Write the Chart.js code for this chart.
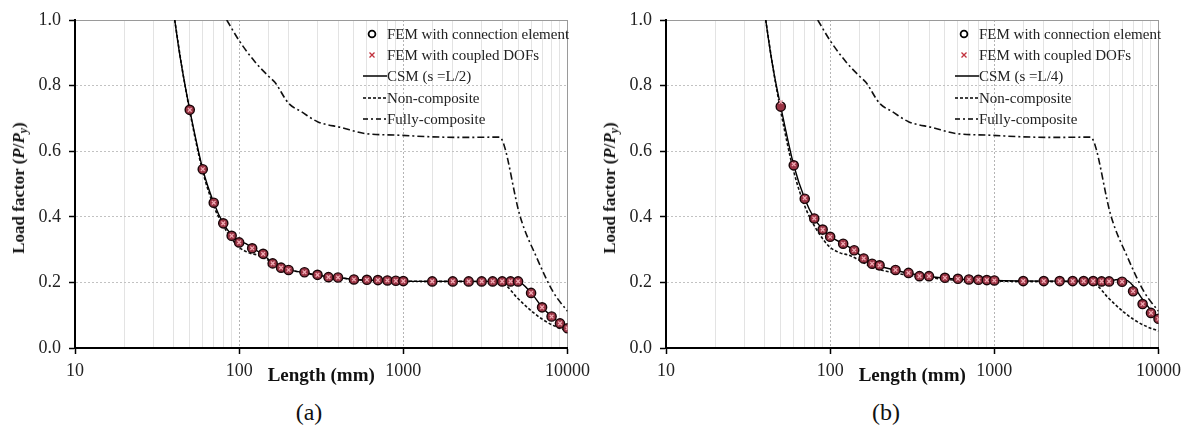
<!DOCTYPE html>
<html><head><meta charset="utf-8">
<script src="https://cdn.jsdelivr.net/npm/chart.js@4.4.1/dist/chart.umd.min.js"></script>
<style>
html,body{margin:0;padding:0;background:#fff;}
body{width:1192px;height:430px;position:relative;overflow:hidden;font-family:"Liberation Serif","Times New Roman",serif;color:#222;}
.panel{position:absolute;top:0;width:596px;height:395px;}
.ytitle{position:absolute;font-weight:bold;font-size:17px;white-space:nowrap;color:#111;transform:translate(-50%,-50%) rotate(-90deg);}
.ytitle sub{font-size:70%;vertical-align:-0.25em;line-height:0;}
.legend{position:absolute;width:230px;height:120px;font-size:15px;color:#222;}
.row{position:absolute;left:0;height:20px;white-space:nowrap;line-height:20px;}
.row svg{position:absolute;left:0;top:3px;}
.row span{position:absolute;left:24px;top:0;}
.cap{position:absolute;font-size:24px;transform:translate(-50%,-50%);color:#111;}
</style></head>
<body>
<div class="panel" style="left:0"><canvas id="chartA" width="596" height="395"></canvas></div>
<div class="panel" style="left:591px"><canvas id="chartB" width="596" height="395"></canvas></div>
<div class="ytitle" style="left:19px;top:188px">Load factor (<i>P</i>/<i>P</i><sub><i>y</i></sub>)</div>
<div class="ytitle" style="left:610px;top:188px">Load factor (<i>P</i>/<i>P</i><sub><i>y</i></sub>)</div>
<div class="legend" id="legA" style="left:363px;top:24px"></div>
<div class="legend" id="legB" style="left:955px;top:24px"></div>
<div class="cap" style="left:309px;top:412px">(a)</div>
<div class="cap" style="left:886px;top:412px">(b)</div>
<script>
// ---- data ----
const lengthFEM = [50,60,70,80,90,100,120,140,160,180,200,250,300,350,400,500,600,700,800,900,1000,1500,2000,2500,3000,3500,4000,4500,5000,6000,7000,8000,9000,10000];

const femConnA = [0.726,0.545,0.443,0.380,0.342,0.322,0.304,0.287,0.258,0.245,0.238,0.231,0.223,0.216,0.215,0.209,0.208,0.207,0.206,0.205,0.204,0.203,0.203,0.203,0.203,0.203,0.203,0.203,0.203,0.168,0.124,0.096,0.075,0.060];
const femDofA  = [0.726,0.545,0.443,0.380,0.342,0.322,0.304,0.287,0.258,0.245,0.238,0.231,0.223,0.216,0.215,0.209,0.208,0.207,0.206,0.205,0.204,0.203,0.203,0.203,0.203,0.203,0.203,0.203,0.203,0.168,0.124,0.096,0.075,0.060];

const femConnB = [0.736,0.557,0.455,0.395,0.361,0.339,0.318,0.298,0.273,0.257,0.252,0.238,0.229,0.219,0.219,0.214,0.211,0.209,0.208,0.207,0.206,0.204,0.204,0.204,0.204,0.204,0.204,0.203,0.203,0.202,0.173,0.134,0.107,0.089];
const femDofB  = [0.750,0.560,0.457,0.395,0.361,0.339,0.318,0.298,0.273,0.257,0.252,0.238,0.229,0.219,0.219,0.214,0.211,0.209,0.208,0.207,0.206,0.204,0.204,0.204,0.204,0.204,0.204,0.203,0.203,0.202,0.173,0.134,0.107,0.089];

const csmLenA = [40.5,43,45.8,50,60,70,80,90,100,110,120,140,160,180,200,250,300,400,500,700,1000,2000,4000,5000,6000,7000,8000,9000,10000];
const csmValA = [1.0,0.909,0.827,0.726,0.545,0.443,0.380,0.345,0.326,0.318,0.305,0.285,0.259,0.245,0.238,0.230,0.222,0.215,0.209,0.206,0.204,0.203,0.203,0.202,0.168,0.125,0.096,0.076,0.060];

const csmLenB = [40.5,43,45.8,50,60,70,80,90,100,120,140,160,180,200,250,300,400,500,700,1000,2000,4000,5000,5500,6000,6500,7000,8000,9000,10000];
const csmValB = [1.0,0.91,0.83,0.736,0.557,0.455,0.395,0.362,0.340,0.318,0.298,0.273,0.258,0.250,0.237,0.228,0.218,0.213,0.208,0.206,0.204,0.204,0.205,0.208,0.210,0.205,0.190,0.148,0.115,0.092];

const nonCompLen = [40.5,45,50,60,70,80,90,100,115,130,150,180,230,300,400,500,1000,2000,3800,4200,4900,5900,7100,8500,10000];
const nonCompVal = [1.0,0.85,0.722,0.538,0.433,0.373,0.333,0.307,0.290,0.283,0.268,0.246,0.232,0.222,0.215,0.209,0.204,0.203,0.202,0.192,0.155,0.117,0.086,0.065,0.052];

const fullCompLen = [84,100,125,150,165,200,240,300,420,580,920,1460,2330,3850,4100,5100,6500,8200,10000];
const fullCompVal = [1.0,0.937,0.872,0.830,0.810,0.746,0.720,0.690,0.672,0.654,0.649,0.644,0.642,0.643,0.620,0.408,0.275,0.170,0.112];

const xTicks = [10,100,1000,10000];
const yTicks = [0,0.2,0.4,0.6,0.8,1.0];
const labelsA = ['FEM with connection element','FEM with coupled DOFs','CSM (s =L/2)','Non-composite','Fully-composite'];
const labelsB = ['FEM with connection element','FEM with coupled DOFs','CSM (s =L/4)','Non-composite','Fully-composite'];
const xTitle = 'Length (mm)';

// ---- helpers ----
const FONT = 'Liberation Serif';
const pts = (xs, ys) => xs.map((x, i) => ({x: x, y: ys[i]}));
const isDecade = v => xTicks.indexOf(Math.round(v)) >= 0 && Math.abs(v - Math.round(v)) < 1e-6;

function buildChart(id, padRight, femConn, femDof, csmLen, csmVal, labels) {
  return new Chart(document.getElementById(id), {
    type: 'scatter',
    data: { datasets: [
      { label: labels[1], data: pts(lengthFEM, femDof), showLine: false,
        pointStyle: 'crossRot', pointRadius: 2.6, pointBorderColor: '#f2aab4', pointBorderWidth: 1.3, pointBackgroundColor: 'rgba(0,0,0,0)' },
      { label: labels[0], data: pts(lengthFEM, femConn), showLine: false,
        pointStyle: 'circle', pointRadius: 4.6, pointBackgroundColor: '#9a3444', pointBorderColor: '#1a0508', pointBorderWidth: 1.4 },
      { label: labels[2], data: pts(csmLen, csmVal), showLine: true, borderColor: '#000', borderWidth: 1.4,
        pointRadius: 0, cubicInterpolationMode: 'monotone' },
      { label: labels[3], data: pts(nonCompLen, nonCompVal), showLine: true, borderColor: '#111', borderWidth: 1.6,
        borderDash: [3, 2], pointRadius: 0, cubicInterpolationMode: 'monotone' },
      { label: labels[4], data: pts(fullCompLen, fullCompVal), showLine: true, borderColor: '#111', borderWidth: 1.6,
        borderDash: [7, 3, 2, 3], pointRadius: 0, cubicInterpolationMode: 'monotone' }
    ]},
    options: {
      responsive: false, animation: false, devicePixelRatio: 1,
      layout: { padding: { left: 0, right: padRight, top: 20, bottom: 0 } },
      plugins: { legend: { display: false }, tooltip: { enabled: false } },
      scales: {
        x: {
          type: 'logarithmic', min: 10, max: 10000,
          afterFit: s => { s.height = 47; },
          ticks: { autoSkip: false, maxRotation: 0, minRotation: 0, padding: 6, color: '#222',
                   font: { family: FONT, size: 18 },
                   callback: v => isDecade(v) ? String(Math.round(v)) : '' },
          grid: { lineWidth: 1, tickLength: 6, tickWidth: 1.5, tickBorderDash: [],
                  color: c => (c.tick && isDecade(c.tick.value)) ? (c.tick.value === 10000 ? '#9a9a9a' : '#b4b4b4') : '#e3e3e3',
                  tickColor: c => (c.tick && isDecade(c.tick.value)) ? '#000' : 'rgba(0,0,0,0)' },
          border: { display: true, color: '#000', width: 2,
                    dash: c => (c.tick && isDecade(c.tick.value) && c.tick.value !== 10000 && c.tick.value !== 10) ? [2, 2] : [] },
          title: { display: true, text: xTitle, color: '#111',
                   font: { family: FONT, size: 19, weight: 'bold' }, padding: { top: 0, bottom: 8 } }
        },
        y: {
          min: 0, max: 1,
          afterFit: s => { s.width = 75; },
          afterBuildTicks: s => { s.ticks = yTicks.map(v => ({ value: v })); },
          ticks: { padding: 8, color: '#222', font: { family: FONT, size: 18 },
                   callback: v => Number(v).toFixed(1) },
          grid: { lineWidth: 1, tickLength: 6, tickWidth: 1.5, tickColor: '#000', tickBorderDash: [],
                  color: c => (c.tick && c.tick.value >= 0.999) ? '#9a9a9a' : '#c2c2c2' },
          border: { display: true, color: '#000', width: 2,
                    dash: c => (c.tick && c.tick.value < 0.999) ? [2, 2] : [] }
        }
      }
    }
  });
}

buildChart('chartA', 24, femConnA, femDofA, csmLenA, csmValA, labelsA);
buildChart('chartB', 26, femConnB, femDofB, csmLenB, csmValB, labelsB);

// ---- HTML legends (inside the plot, top right) ----
const symbols = [
  '<svg width="24" height="14"><circle cx="9" cy="7" r="3.4" fill="none" stroke="#000" stroke-width="1.8"/></svg>',
  '<svg width="24" height="14"><path d="M6.5 4.5 L11.5 9.5 M11.5 4.5 L6.5 9.5" stroke="#c0303c" stroke-width="1.3"/></svg>',
  '<svg width="24" height="14"><line x1="0" y1="7" x2="24" y2="7" stroke="#000" stroke-width="1.5"/></svg>',
  '<svg width="24" height="14"><line x1="0" y1="7" x2="24" y2="7" stroke="#000" stroke-width="1.6" stroke-dasharray="3,2"/></svg>',
  '<svg width="24" height="14"><line x1="0" y1="7" x2="24" y2="7" stroke="#000" stroke-width="1.6" stroke-dasharray="5,3,2,3"/></svg>'
];
function buildLegend(id, labels) {
  const el = document.getElementById(id);
  labels.forEach((t, i) => {
    const r = document.createElement('div');
    r.className = 'row';
    r.style.top = (i * 21.2) + 'px';
    r.innerHTML = symbols[i] + '<span></span>';
    r.querySelector('span').textContent = t;
    el.appendChild(r);
  });
}
buildLegend('legA', labelsA);
buildLegend('legB', labelsB);
</script>
</body></html>
